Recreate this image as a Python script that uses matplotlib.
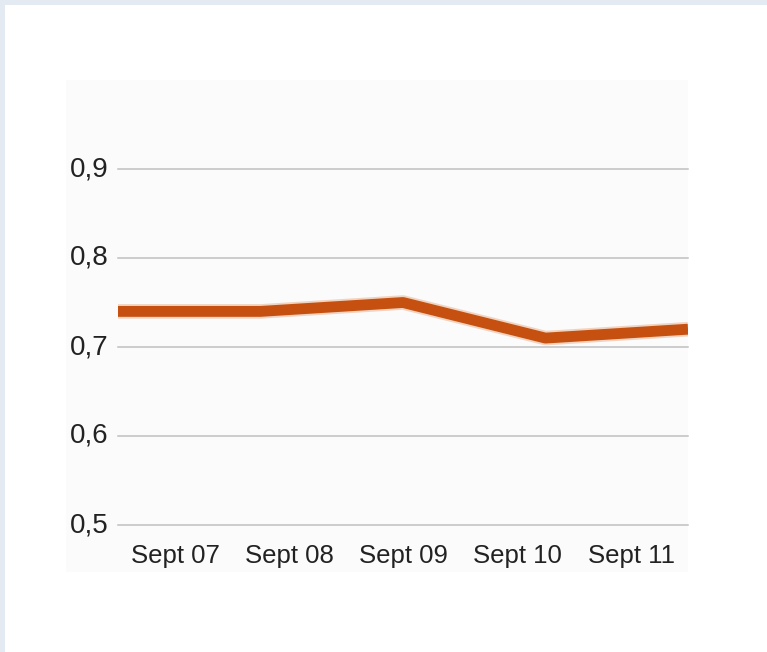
import matplotlib
matplotlib.use("Agg")
import matplotlib.pyplot as plt
from matplotlib.patches import Rectangle
import numpy as np

# Index values per month
months = ["Sept 07", "Sept 08", "Sept 09", "Sept 10", "Sept 11"]
values = [0.74, 0.74, 0.75, 0.71, 0.72]
y_ticks = [0.5, 0.6, 0.7, 0.8, 0.9]
y_labels = ["0,5", "0,6", "0,7", "0,8", "0,9"]

W, H = 767, 652
fig = plt.figure(figsize=(W / 100, H / 100), dpi=100)
fig.patch.set_facecolor("white")

# Frame bands along top and left edges
fig.patches.append(Rectangle((0, 1 - 5 / H), 1, 5 / H, transform=fig.transFigure,
                             facecolor="#e3eaf2", edgecolor="none", zorder=-10))
fig.patches.append(Rectangle((0, 0), 5 / W, 1, transform=fig.transFigure,
                             facecolor="#e3eaf2", edgecolor="none", zorder=-10))
# Light panel behind the chart
fig.patches.append(Rectangle((66 / W, (H - 572) / H), 622 / W, 492 / H,
                             transform=fig.transFigure, facecolor="#fbfbfb",
                             edgecolor="none", zorder=-10))

ax = fig.add_axes([118 / W, (H - 525) / H, 570 / W, 445 / H])
ax.set_zorder(5)
ax.patch.set_alpha(0)

x = np.arange(len(values))
ax.set_xlim(0, len(values) - 1)
ax.set_ylim(0.5, 1.0)

for yv in y_ticks:
    ax.axhline(yv, color="#c0c0c0", lw=1.1, zorder=1, clip_on=False)

# Soft halo plus solid core for the series line
ax.plot(x, values, color="#dc8a55", lw=10.5, alpha=0.35, solid_capstyle="butt",
        solid_joinstyle="round", zorder=2, snap=False)
ax.plot(x, values, color="#c5500f", lw=7.8, solid_capstyle="butt",
        solid_joinstyle="round", zorder=3, snap=False)

for s in ax.spines.values():
    s.set_visible(False)

ax.set_yticks(y_ticks)
ax.set_yticklabels(y_labels, fontsize=20, color="#222222", family="Liberation Sans")
ax.tick_params(axis="y", length=0, pad=7)
for t in ax.get_yticklabels():
    t.set_verticalalignment("center")

slot = (len(values) - 1) / len(months)
ax.set_xticks([(i + 0.5) * slot for i in range(len(months))])
ax.set_xticklabels(months, fontsize=18.5, color="#222222", family="Liberation Sans")
ax.tick_params(axis="x", length=0, pad=14)

fig.savefig("out.png", dpi=100)
